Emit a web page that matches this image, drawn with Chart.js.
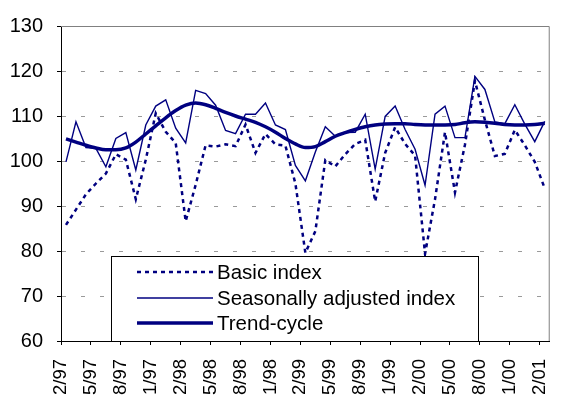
<!DOCTYPE html>
<html>
<head>
<meta charset="utf-8">
<script src="https://cdn.jsdelivr.net/npm/chart.js@4/dist/chart.umd.min.js"></script>
<style>
html,body{margin:0;padding:0;background:#fff;}
canvas{display:block;}
</style>
</head>
<body>
<canvas id="c" width="576" height="405"></canvas>
<script>
// ---- data ----
const months = [
  "2/97","3/97","4/97","5/97","6/97","7/97","8/97","9/97","10/97","11/97","12/97",
  "1/98","2/98","3/98","4/98","5/98","6/98","7/98","8/98","9/98","10/98","11/98","12/98",
  "1/99","2/99","3/99","4/99","5/99","6/99","7/99","8/99","9/99","10/99","11/99","12/99",
  "1/00","2/00","3/00","4/00","5/00","6/00","7/00","8/00","9/00","10/00","11/00","12/00",
  "1/01","2/01"
];
const tickLabels = ["2/97","5/97","8/97","1/97","2/98","5/98","8/98","1/98","2/99","5/99","8/99","1/99","2/00","5/00","8/00","1/00","2/01"];
const tickMonths = ["2/97","5/97","8/97","11/97","2/98","5/98","8/98","11/98","2/99","5/99","8/99","11/99","2/00","5/00","8/00","11/00","2/01"];

const basicIndex = [
  85.8, 89.2, 92.6, 95.0, 97.2, 101.5, 100.3, 91.5, 100.3, 110.6, 106.5,
  104.0, 86.6, 94.7, 103.5, 103.2, 103.7, 103.3, 108.1, 101.8, 106.0, 103.7, 103.4,
  95.0, 79.6, 84.4, 100.2, 98.8, 101.5, 103.8, 104.7, 91.0, 101.8, 107.5, 103.8,
  101.2, 79.4, 91.5, 106.4, 93.0, 103.6, 117.8, 109.1, 101.1, 101.6, 106.9, 103.5,
  99.8, 93.9
];
const seasonallyAdjusted = [
  99.8, 108.7, 103.0, 102.8, 98.7, 105.0, 106.3, 98.0, 108.0, 112.2, 113.6,
  107.3, 104.0, 115.7, 115.0, 112.4, 106.8, 106.1, 110.4, 110.4, 112.9, 108.0, 107.0,
  99.0, 95.6, 102.0, 107.6, 105.5, 106.3, 106.4, 110.4, 98.2, 109.9, 112.2, 107.0,
  102.6, 94.6, 110.4, 112.2, 105.2, 105.2, 118.8, 115.9, 108.7, 108.3, 112.5, 108.2,
  104.3, 108.8
];
const trendCycle = [
  104.9, 104.2, 103.5, 102.9, 102.5, 102.5, 102.9, 104.2, 106.0, 107.8, 109.6,
  111.2, 112.4, 112.9, 112.5, 111.7, 110.8, 110.0, 109.3, 108.6, 107.6, 106.4, 105.0,
  103.8, 103.0, 103.2, 104.3, 105.5, 106.3, 107.0, 107.6, 108.0, 108.2, 108.3, 108.3,
  108.1, 108.0, 108.0, 108.0, 108.1, 108.5, 108.7, 108.6, 108.4, 108.1, 108.0, 108.0,
  108.1, 108.4
];
const seriesNames = ["Basic index", "Seasonally adjusted index", "Trend-cycle"];
const yTicks = [60, 70, 80, 90, 100, 110, 120, 130];

// ---- chart ----
const NAVY = "#000080";
const FONT = "'Liberation Sans', Arial, sans-serif";
const toPoints = arr => arr.map((v, i) => ({ x: i, y: v }));
const tickPositions = tickMonths.map(m => months.indexOf(m) - 0.5);

const frame = {
  id: "frame",
  beforeDatasetsDraw(chart) {
    const { ctx, chartArea: a } = chart;
    ctx.save();
    ctx.strokeStyle = "#808080";
    ctx.lineWidth = 1;
    ctx.beginPath();
    ctx.moveTo(a.left, a.top + 0.5);
    ctx.lineTo(a.right - 0.5, a.top + 0.5);
    ctx.lineTo(a.right - 0.5, a.bottom);
    ctx.stroke();
    ctx.restore();
  }
};

const boxLegend = {
  id: "boxLegend",
  afterDatasetsDraw(chart) {
    const { ctx, chartArea: a } = chart;
    const x0 = a.left + 50, y0 = 256, x1 = a.left + 417, y1 = a.bottom;
    ctx.save();
    ctx.fillStyle = "#fff";
    ctx.fillRect(x0, y0, x1 - x0, y1 - y0);
    ctx.strokeStyle = "#000";
    ctx.lineWidth = 1;
    ctx.strokeRect(x0 + 0.5, y0 + 0.5, x1 - x0, y1 - y0);
    const rows = [272, 298, 323];
    chart.data.datasets.forEach((ds, i) => {
      const y = rows[i];
      ctx.strokeStyle = ds.borderColor;
      ctx.lineWidth = ds.borderWidth;
      ctx.setLineDash(ds.borderDash || []);
      ctx.beginPath();
      ctx.moveTo(x0 + 26, y);
      ctx.lineTo(x0 + 102, y);
      ctx.stroke();
      ctx.setLineDash([]);
      ctx.fillStyle = "#000";
      ctx.font = "20.5px " + FONT;
      ctx.textBaseline = "middle";
      ctx.textAlign = "left";
      ctx.fillText(ds.label, x0 + 106, y + 1);
    });
    ctx.restore();
  }
};

new Chart(document.getElementById("c"), {
  type: "line",
  data: {
    datasets: [
      { label: seriesNames[0], data: toPoints(basicIndex), borderColor: NAVY, borderWidth: 2.5,
        borderDash: [4, 4], pointRadius: 0, tension: 0, order: 3 },
      { label: seriesNames[1], data: toPoints(seasonallyAdjusted), borderColor: NAVY, borderWidth: 1.4,
        pointRadius: 0, tension: 0, order: 2 },
      { label: seriesNames[2], data: toPoints(trendCycle), borderColor: NAVY, borderWidth: 3.5,
        pointRadius: 0, cubicInterpolationMode: "monotone", order: 1 }
    ]
  },
  options: {
    responsive: false,
    animation: false,
    devicePixelRatio: 1,
    layout: { padding: { top: 19, right: 2, left: 0, bottom: 0 } },
    plugins: { legend: { display: false }, tooltip: { enabled: false } },
    scales: {
      x: {
        type: "linear",
        min: -0.5,
        max: months.length - 0.5,
        afterBuildTicks: s => { s.ticks = tickPositions.map(v => ({ value: v })); },
        afterFit: s => { s.height = 64; },
        ticks: {
          autoSkip: false, maxRotation: 90, minRotation: 90, padding: 14,
          color: "#000", font: { family: FONT, size: 18.5 },
          callback: (v, i) => tickLabels[i]
        },
        grid: { drawOnChartArea: false, drawTicks: true, tickLength: 4, color: "#000" },
        border: { color: "#000", width: 1 }
      },
      y: {
        min: 60, max: 130,
        afterBuildTicks: s => { s.ticks = yTicks.map(v => ({ value: v })); },
        afterFit: s => { s.width = 61; },
        ticks: { padding: 14, color: "#000", font: { family: FONT, size: 20 } },
        grid: {
          color: c => (c.tick && (c.tick.value === 60 || c.tick.value === 130)) ? "rgba(0,0,0,0)" : "#9a9a9a",
          tickColor: "#000", tickLength: 4, tickBorderDash: [], lineWidth: 1
        },
        border: { color: "#000", width: 1, dash: [4, 15] }
      }
    }
  },
  plugins: [frame, boxLegend]
});
</script>
</body>
</html>
